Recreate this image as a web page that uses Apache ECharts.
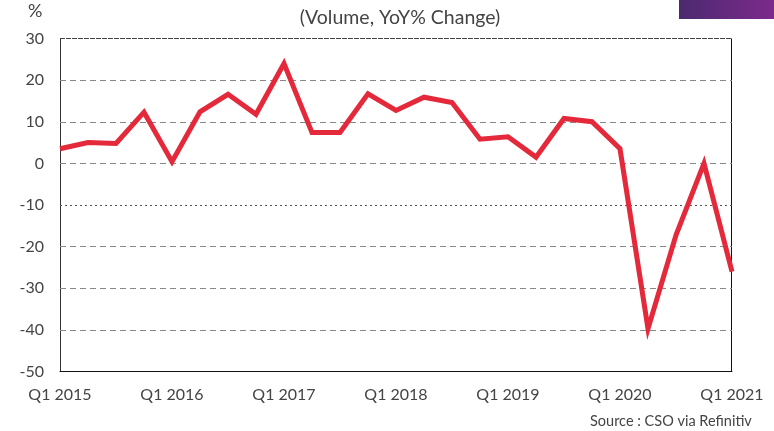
<!DOCTYPE html>
<html><head><meta charset="utf-8">
<script src="https://cdn.jsdelivr.net/npm/echarts@6/dist/echarts.min.js"></script>
<style>html,body{margin:0;padding:0;background:#fff}#c{width:774px;height:431px}</style>
</head><body><div id="c"></div>
<script>
const categories = ["Q1 2015","Q2 2015","Q3 2015","Q4 2015","Q1 2016","Q2 2016","Q3 2016","Q4 2016","Q1 2017","Q2 2017","Q3 2017","Q4 2017","Q1 2018","Q2 2018","Q3 2018","Q4 2018","Q1 2019","Q2 2019","Q3 2019","Q4 2019","Q1 2020","Q2 2020","Q3 2020","Q4 2020","Q1 2021"];
const values = [3.5,5.0,4.8,12.3,0.4,12.4,16.6,11.8,24.0,7.4,7.4,16.7,12.7,15.9,14.6,5.8,6.4,1.5,10.8,10.0,3.5,-39.7,-17.2,0.0,-26.0];
const yTicks = [30,20,10,0,-10,-20,-30,-40];
const title = "(Volume, YoY% Change)";
const unitLabel = "%";
const source = "Source : CSO via Refinitiv";

const FONT = "Lato";
const chart = echarts.init(document.getElementById('c'), null, {renderer:'canvas'});
const gridLines = yTicks.map(v => ({
  yAxis: v,
  lineStyle: v === 30 ? {type:[5,1], color:'#444', width:1.2}
           : v === -10 ? {type:[2,3], color:'#555', width:1}
           : {type:[6,4], color:'#888', width:1}
}));
chart.setOption({
  animation:false,
  textStyle:{fontFamily:FONT},
  grid:{left:60, right:42, top:38.5, bottom:59.5},
  title:{text:title, left:395, textAlign:'center', top:3,
    textStyle:{fontFamily:FONT, fontSize:19.5, fontWeight:'normal', color:'#444'}},
  graphic:[
    {type:'rect', shape:{x:679,y:0,width:95,height:19},
     style:{fill:new echarts.graphic.LinearGradient(0,0,1,0,[{offset:0,color:'#4b2a6f'},{offset:1,color:'#7c2a8c'}])}},
    {type:'text', left:28, top:2, style:{text:unitLabel, fontFamily:FONT, fontSize:18, fill:'#444'}},
    {type:'text', left:590, top:414, style:{text:source, fontFamily:FONT, fontSize:14.5, fill:'#444'}},
    {type:'line', shape:{x1:731.5,y1:38.5,x2:731.5,y2:371.5}, style:{stroke:'#111', lineWidth:1}}
  ],
  xAxis:{type:'category', data:categories, boundaryGap:false,
    axisLine:{onZero:false, lineStyle:{color:'#111', width:1}},
    axisTick:{show:false},
    axisLabel:{interval:3, margin:15, fontFamily:FONT, fontSize:16, color:'#444'},
    splitLine:{show:false}},
  yAxis:{type:'value', min:-50, max:30, interval:10,
    axisLine:{show:true, lineStyle:{color:'#333', width:1}},
    axisTick:{show:false},
    axisLabel:{margin:16, fontFamily:FONT, fontSize:16, color:'#444'},
    splitLine:{show:false}},
  series:[{type:'line', data:values, symbol:'none', z:3,
    lineStyle:{color:'#e3293a', width:5, join:'miter'},
    markLine:{silent:true, symbol:'none', label:{show:false}, z:1, data:gridLines}}]
});
</script></body></html>
